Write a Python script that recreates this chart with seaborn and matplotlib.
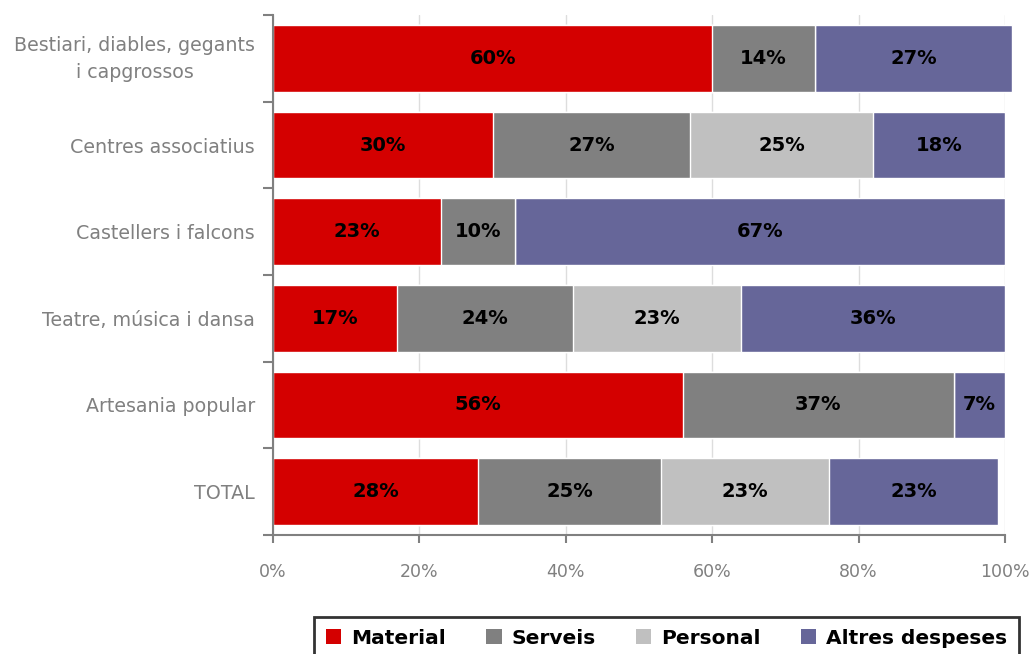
import numpy as np
import pandas as pd
import matplotlib
matplotlib.use("Agg")
import matplotlib.pyplot as plt
import matplotlib.transforms as mtransforms
from matplotlib.patches import Patch
import seaborn as sns

categories = ["Bestiari, diables, gegants\ni capgrossos", "Centres associatius",
              "Castellers i falcons", "Teatre, música i dansa",
              "Artesania popular", "TOTAL"]
series = ["Material", "Serveis", "Personal", "Altres despeses"]
material = [60, 30, 23, 17, 56, 28]
serveis = [14, 27, 10, 24, 37, 25]
personal = [0, 25, 0, 23, 0, 23]
altres = [27, 18, 67, 36, 7, 23]
colors = ["#D40000", "#808080", "#C0C0C0", "#666699"]

df = pd.DataFrame({"cat": categories, "Material": material, "Serveis": serveis,
                   "Personal": personal, "Altres despeses": altres})
cum = df[series].cumsum(axis=1) / 100.0

sns.set_style("white")
plt.rcParams["font.family"] = ["DejaVu Sans"]

fig = plt.figure(figsize=(10.29, 6.54), dpi=100)
ax = fig.add_axes([0.2653, 0.182, 0.7114, 0.795])

# stacked bars: draw largest cumulative first
for s, c in reversed(list(zip(series, colors))):
    sns.barplot(x=cum[s], y=df["cat"], color=c, orient="h", width=0.77,
                saturation=1, ax=ax, clip_on=False, zorder=2)

# value labels
for i in range(len(categories)):
    start = 0.0
    for s in series:
        v = df.loc[i, s]
        if v > 0:
            ax.text(start + v / 200.0, i, f"{v}%", ha="center", va="center",
                    fontsize=14, fontweight="bold", color="black", zorder=3)
        start += v / 100.0

ax.set_xlim(0, 1.0)
ax.set_ylim(len(categories) - 0.5, -0.5)
ax.set_xticks(np.arange(0, 1.01, 0.2))
ax.set_xticklabels([f"{int(round(t * 100))}%" for t in np.arange(0, 1.01, 0.2)])
ax.xaxis.grid(True, color="#DDDDDD", linewidth=1.0, zorder=0)
ax.set_axisbelow(True)
ax.set_xlabel("")
ax.set_ylabel("")

for side in ["top", "right"]:
    ax.spines[side].set_visible(False)
for side in ["left", "bottom"]:
    ax.spines[side].set_color("#808080")
    ax.spines[side].set_linewidth(1.5)

ax.set_yticks(np.arange(-0.5, len(categories)), minor=True)
ax.tick_params(axis="y", which="major", length=0, pad=13, labelsize=13.7,
               labelcolor="#808080")
ax.tick_params(axis="y", which="minor", left=True, length=7, width=1.5,
               color="#808080")
ax.tick_params(axis="x", which="major", bottom=True, length=6, width=1.5,
               color="#808080", pad=14, labelsize=12.5, labelcolor="#808080")
for lab in ax.get_yticklabels():
    lab.set_multialignment("center")
    lab.set_linespacing(1.5)
    if "\n" in lab.get_text():
        lab.set_transform(lab.get_transform() +
                          mtransforms.ScaledTranslation(0, 0.05, fig.dpi_scale_trans))

handles = [Patch(facecolor=c, edgecolor="none", label=s) for s, c in zip(series, colors)]
leg = fig.legend(handles=handles, loc="upper center", bbox_to_anchor=(0.648, 0.057),
                 ncol=4, frameon=True, fancybox=False, handlelength=0.75,
                 handleheight=0.75, handletextpad=0.5, columnspacing=2.0,
                 prop={"weight": "bold", "size": 14.5}, borderpad=0.6,
                 borderaxespad=0, labelcolor="black")
leg.get_frame().set_edgecolor("black")
leg.get_frame().set_linewidth(2)

fig.savefig("out.png", dpi=100)
